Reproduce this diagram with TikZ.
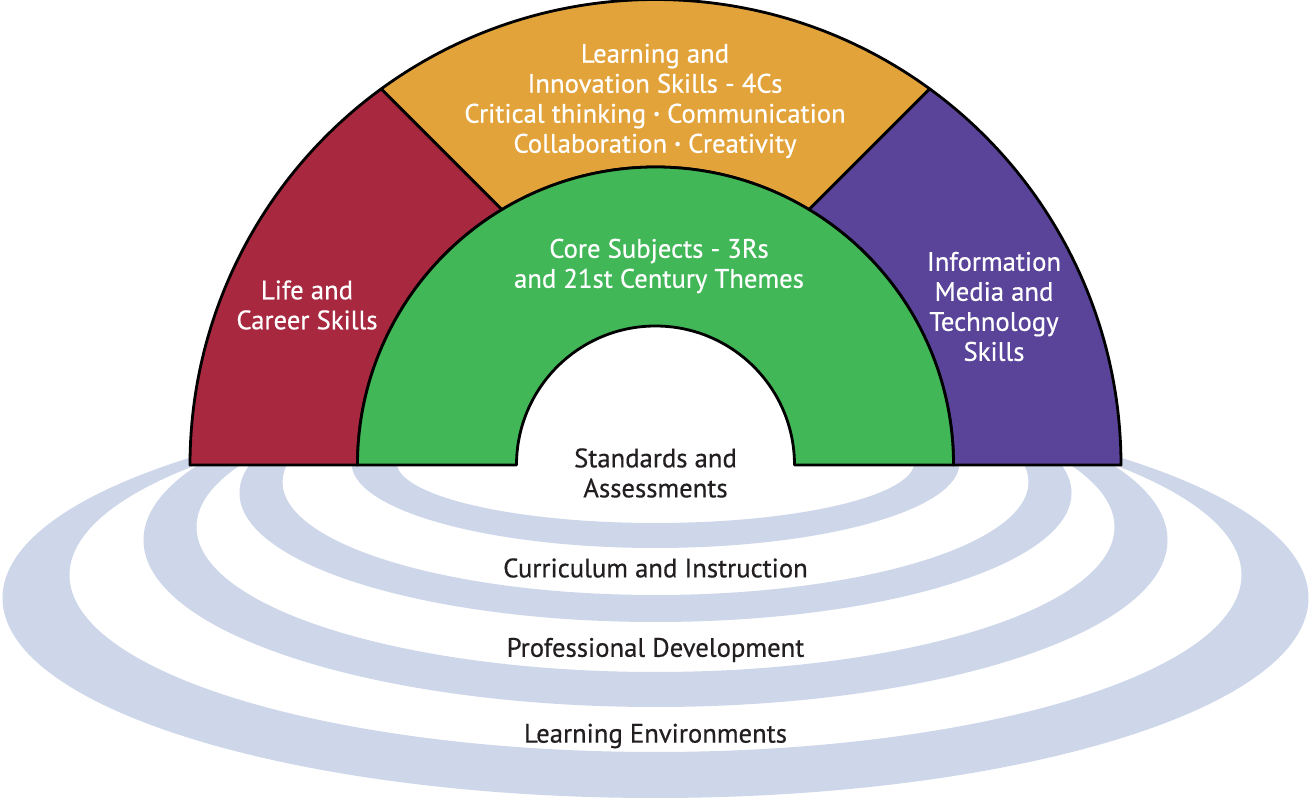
\documentclass[tikz,border=0pt]{standalone}
\usepackage{fontspec}
\setmainfont{PT Sans}[FakeBold=0.5]
\usetikzlibrary{calc}
\definecolor{lcred}{HTML}{A8283F}
\definecolor{lcorange}{HTML}{E3A33B}
\definecolor{lcgreen}{HTML}{41B757}
\definecolor{lcpurple}{HTML}{5A449A}
\definecolor{ripple}{HTML}{CDD7E9}
\definecolor{darktext}{HTML}{231F20}
\newcommand\smdot{{\fontsize{15}{15}\selectfont\raisebox{4pt}{•}}}
\begin{document}
\begin{tikzpicture}[x=1pt,y=1pt,
  seg/.style={draw=black, line width=2.8pt, line join=round},
  ring/.style={fill=ripple, even odd rule},
  wlabel/.style={text=white, align=center, font=\fontsize{26.7}{30}\selectfont, inner sep=0pt},
  dlabel/.style={text=darktext, align=center, font=\fontsize{26.7}{30}\selectfont, inner sep=0pt}]
\useasboundingbox (0,0) rectangle (1312,805);
\coordinate (C) at (655.5,340);
% ripples
\fill[ring] (655.5,207) ellipse [x radius=653, y radius=200] (655.5,230) ellipse [x radius=586, y radius=177];
\fill[ring] (655.5,265) ellipse [x radius=512, y radius=167] (655.5,278) ellipse [x radius=459, y radius=145];
\fill[ring] (655.5,312) ellipse [x radius=416, y radius=129] (655.5,323) ellipse [x radius=373, y radius=113];
\fill[ring] (655.5,342) ellipse [x radius=304, y radius=85] (655.5,343) ellipse [x radius=259, y radius=61];
% inner arch stays white
\fill[white] ($(C)+(0:139)$) arc[start angle=0, end angle=180, radius=139] -- cycle;
% rainbow segments
\path[seg, fill=lcred] ($(C)+(180:465.5)$) arc[start angle=180, end angle=126.1, radius=465.5]
  -- ($(C)+(121:298)$) arc[start angle=121, end angle=180, radius=298] -- cycle;
\path[seg, fill=lcorange] ($(C)+(126.1:465.5)$) arc[start angle=126.1, end angle=53.9, radius=465.5]
  -- ($(C)+(59:298)$) arc[start angle=59, end angle=121, radius=298] -- cycle;
\path[seg, fill=lcpurple] ($(C)+(53.9:465.5)$) arc[start angle=53.9, end angle=0, radius=465.5]
  -- ($(C)+(0:298)$) arc[start angle=0, end angle=59, radius=298] -- cycle;
\path[seg, fill=lcgreen] ($(C)+(180:298)$) arc[start angle=180, end angle=0, radius=298]
  -- ($(C)+(0:139)$) arc[start angle=0, end angle=180, radius=139] -- cycle;
% labels
\node[wlabel] (lis) at (655,704) {Learning and\\Innovation Skills - 4Cs\\Critical thinking \smdot{} Communication\\Collaboration \smdot{} Creativity};
\node[wlabel] (core) at (659,539) {Core Subjects - 3Rs\\and 21st Century Themes};
\node[wlabel] (life) at (307,500) {Life and\\Career Skills};
\node[wlabel] (imt) at (994,498.5) {Information\\Media and\\Technology\\Skills};
\node[dlabel] (sa) at (655.5,332) {Standards and\\Assessments};
\node[dlabel] (ci) at (655.5,237) {Curriculum and Instruction};
\node[dlabel] (pd) at (655.5,155) {Professional Development};
\node[dlabel] (le) at (655.5,69) {Learning Environments};
\end{tikzpicture}
\end{document}
